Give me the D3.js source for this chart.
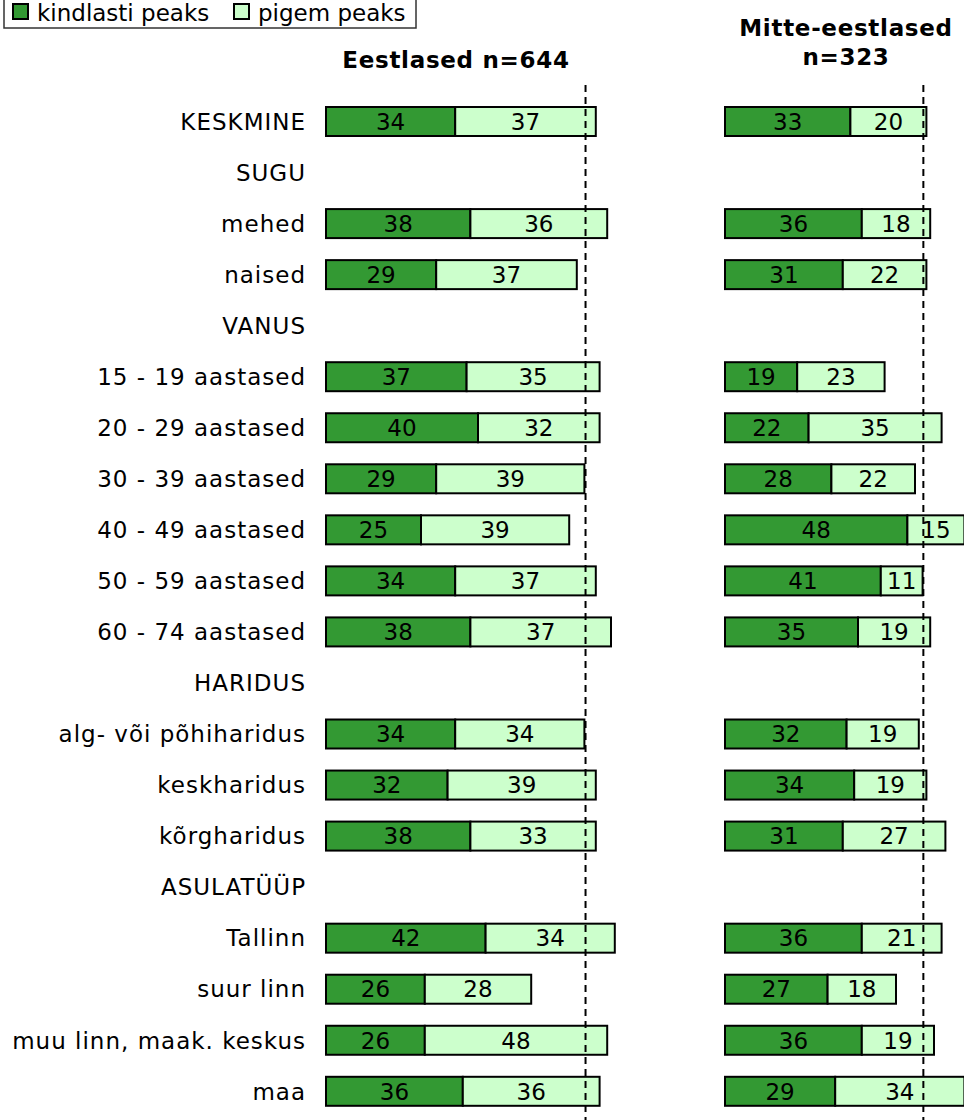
<!DOCTYPE html>
<html><head><meta charset="utf-8">
<script src="https://cdn.jsdelivr.net/npm/d3@7"></script>
<style>body{margin:0;background:#fff}svg{display:block}</style>
</head><body>
<script>
const categories = ["KESKMINE","SUGU","mehed","naised","VANUS","15 - 19 aastased","20 - 29 aastased","30 - 39 aastased","40 - 49 aastased","50 - 59 aastased","60 - 74 aastased","HARIDUS","alg- või põhiharidus","keskharidus","kõrgharidus","ASULATÜÜP","Tallinn","suur linn","muu linn, maak. keskus","maa"];
// null = header row without bars
const estKindlasti = [34,null,38,29,null,37,40,29,25,34,38,null,34,32,38,null,42,26,26,36];
const estPigem     = [37,null,36,37,null,35,32,39,39,37,37,null,34,39,33,null,34,28,48,36];
const mitKindlasti = [33,null,36,31,null,19,22,28,48,41,35,null,32,34,31,null,36,27,36,29];
const mitPigem     = [20,null,18,22,null,23,35,22,15,11,19,null,19,19,27,null,21,18,19,34];
const refLines = [68.3, 52.2];
const panelTitles = [["Eestlased n=644"],["Mitte-eestlased","n=323"]];
const seriesNames = ["kindlasti peaks","pigem peaks"];
const colors = ["#339933","#CCFFCC"];

const W=964,H=1120;
const svg=d3.select("body").append("svg").attr("width",W).attr("height",H)
  .style("font-family","'DejaVu Sans', Verdana, sans-serif");

const y=d3.scalePoint().domain(d3.range(categories.length)).range([121.5,1091.3]);
const barH=29;
const x1=d3.scaleLinear().domain([0,1]).range([326,326+3.8]);
const x2=d3.scaleLinear().domain([0,1]).range([725,725+3.8]);

// row labels
svg.append("g").selectAll("text").data(categories).join("text")
  .attr("x",306).attr("y",(d,i)=>y(i)).attr("dy","0.36em")
  .attr("text-anchor","end").attr("font-size",23).attr("letter-spacing",1)
  .attr("fill","#000").text(d=>d);

function panel(x,k,p,ref,title,cx){
  const g=svg.append("g");
  const rows=categories.map((c,i)=>({i,k:k[i],p:p[i]})).filter(d=>d.k!=null);
  rows.forEach(d=>{
    const segs=[{v:d.k,x0:0,c:colors[0]},{v:d.p,x0:d.k,c:colors[1]}];
    segs.forEach(s=>{
      g.append("rect").attr("x",x(s.x0)).attr("y",y(d.i)-barH/2)
        .attr("width",x(s.x0+s.v)-x(s.x0)).attr("height",barH)
        .attr("fill",s.c).attr("stroke","#000").attr("stroke-width",2);
    });
  });
  g.append("line").attr("x1",x(ref)).attr("x2",x(ref)).attr("y1",85).attr("y2",H)
    .attr("stroke","#000").attr("stroke-width",2).attr("stroke-dasharray","7,5");
  rows.forEach(d=>{
    [{v:d.k,x0:0},{v:d.p,x0:d.k}].forEach(s=>{
      g.append("text").attr("x",(x(s.x0)+x(s.x0+s.v))/2).attr("y",y(d.i)).attr("dy","0.36em")
        .attr("text-anchor","middle").attr("font-size",23).attr("fill","#000").text(s.v);
    });
  });
  const ty = title.length===1?[60]:[28,57];
  title.forEach((t,j)=>{
    svg.append("text").attr("x",cx).attr("y",ty[j]).attr("dy","0.36em")
      .attr("text-anchor","middle").attr("font-size",23).attr("letter-spacing",0.7)
      .attr("font-weight","bold").text(t);
  });
}
panel(x1,estKindlasti,estPigem,refLines[0],panelTitles[0],456);
panel(x2,mitKindlasti,mitPigem,refLines[1],panelTitles[1],846);

// legend
const lg=svg.append("g");
lg.append("rect").attr("x",4).attr("y",-5).attr("width",412).attr("height",33)
  .attr("fill","#fff").attr("stroke","#333").attr("stroke-width",1.5);
const items=[{n:seriesNames[0],c:colors[0],x:13},{n:seriesNames[1],c:colors[1],x:234}];
items.forEach(it=>{
  lg.append("rect").attr("x",it.x).attr("y",4).attr("width",15).attr("height",15)
    .attr("fill",it.c).attr("stroke","#000").attr("stroke-width",2);
  lg.append("text").attr("x",it.x+24).attr("y",13).attr("dy","0.36em")
    .attr("font-size",23).text(it.n);
});
</script>
</body></html>
